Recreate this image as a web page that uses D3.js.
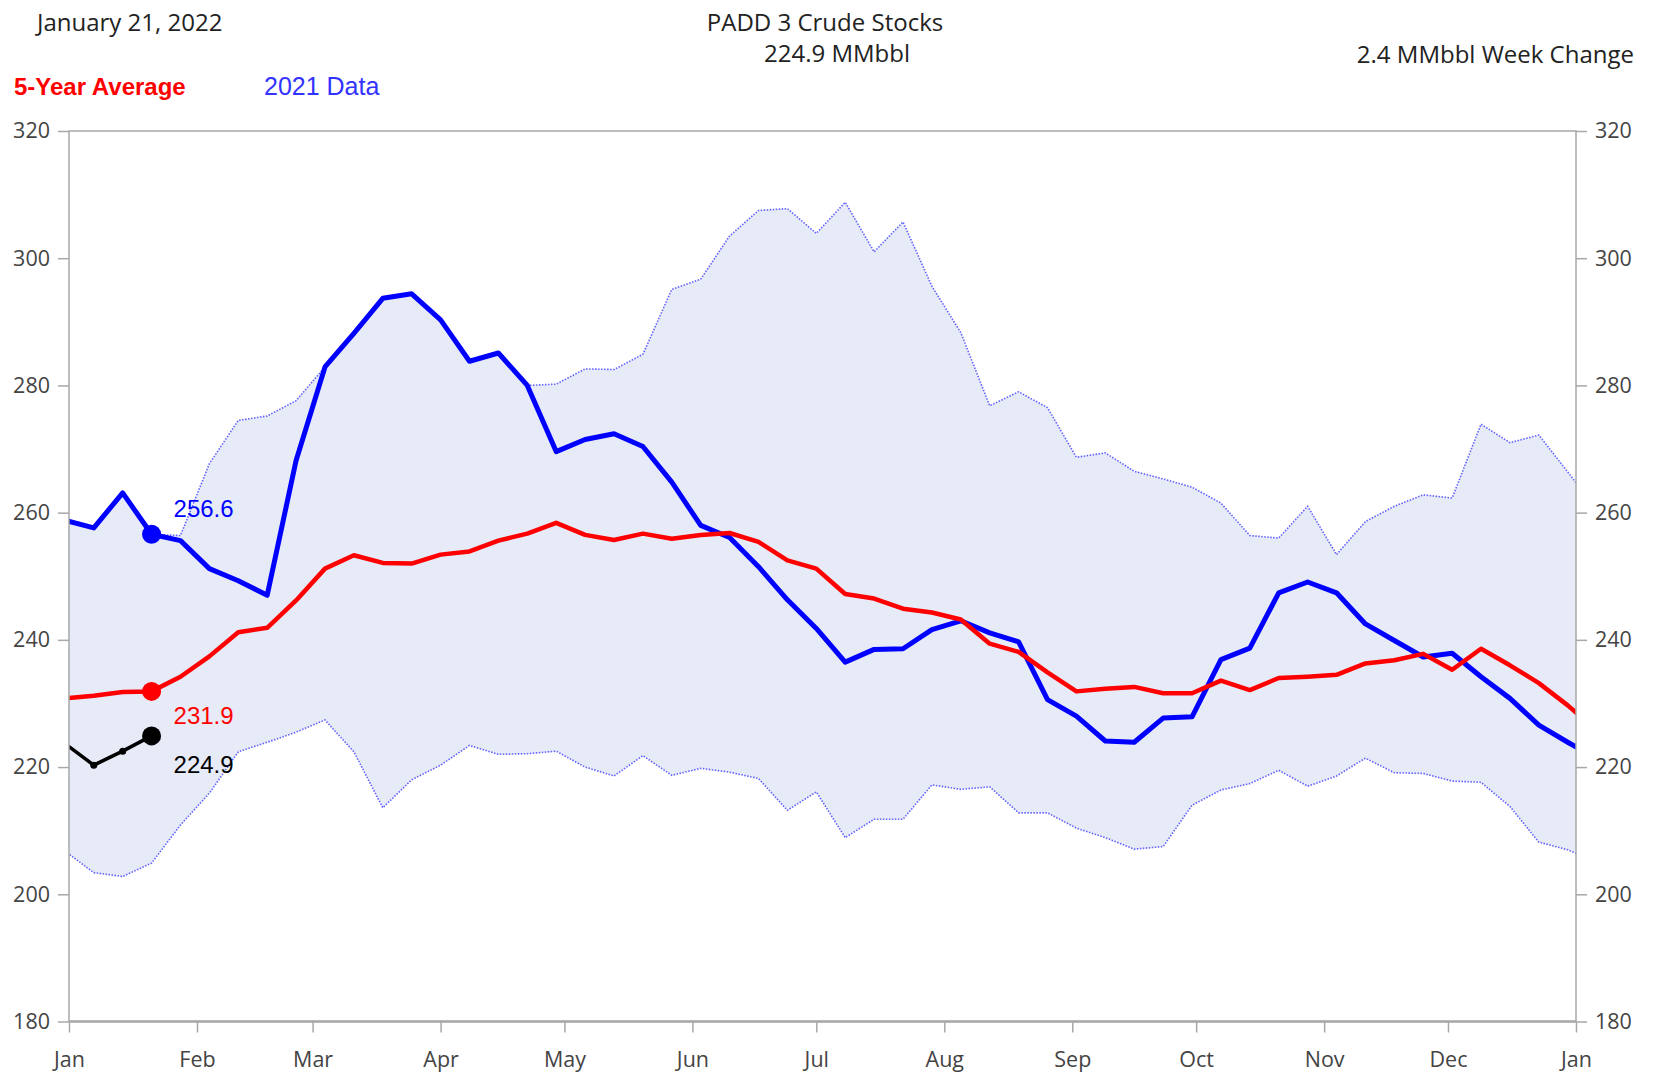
<!DOCTYPE html>
<html>
<head>
<meta charset="utf-8">
<script src="https://cdn.jsdelivr.net/npm/d3@7"></script>
<style>
  body { margin: 0; background: #fff; }
  .axis text { font-family: "Open Sans", sans-serif; font-size: 21.5px; fill: #444; }
  .axis line { stroke: #a8a8a8; stroke-width: 1.5; }
  .axis path { display: none; }
</style>
</head>
<body>
<div id="chart"></div>
<script>
// weekly report dates, shown on a 2021 calendar (Dec 31 2020 .. Jan 6 2022)
const weeks = d3.range(54).map(i => d3.utcDay.offset(new Date(Date.UTC(2020, 11, 31)), i * 7));

// 2021 weekly stocks, MMbbl
const data2021 = [258.8, 257.6, 263.1, 256.6, 255.6, 251.2, 249.3, 247.0, 268.2, 282.9,
  288.2, 293.7, 294.4, 290.3, 283.8, 285.1, 280.0, 269.6, 271.5, 272.4,
  270.4, 264.8, 258.0, 256.1, 251.5, 246.3, 241.8, 236.5, 238.5, 238.6,
  241.6, 243.0, 241.1, 239.7, 230.6, 228.0, 224.1, 223.9, 227.7, 227.9,
  236.9, 238.7, 247.4, 249.1, 247.4, 242.5, 239.9, 237.3, 237.9, 234.2,
  230.8, 226.6, 223.9, 221.3];

// 5-year average
const avg5 = [230.8, 231.2, 231.8, 231.9, 234.2, 237.4, 241.2, 241.9, 246.2, 251.2,
  253.3, 252.1, 252.0, 253.4, 253.9, 255.6, 256.7, 258.4, 256.5, 255.7,
  256.7, 255.9, 256.5, 256.8, 255.4, 252.5, 251.2, 247.2, 246.5, 244.9,
  244.3, 243.2, 239.4, 238.1, 234.9, 231.9, 232.3, 232.6, 231.6, 231.6,
  233.6, 232.1, 234.0, 234.2, 234.5, 236.3, 236.8, 237.8, 235.3, 238.6,
  236.0, 233.2, 229.7, 225.8];

// 5-year range
const max5 = [258.8, 257.6, 263.1, 256.6, 256.4, 267.7, 274.5, 275.2, 277.6, 282.9,
  288.2, 293.7, 294.4, 290.3, 283.8, 285.1, 280.0, 280.2, 282.6, 282.5,
  284.9, 295.1, 296.7, 303.5, 307.5, 307.8, 303.9, 308.8, 301.0, 305.7,
  295.6, 288.3, 276.8, 279.0, 276.5, 268.7, 269.4, 266.5, 265.3, 264.0,
  261.5, 256.4, 256.0, 261.0, 253.4, 258.6, 261.0, 262.8, 262.3, 273.9,
  271.0, 272.2, 266.4, 260.5];
const min5 = [206.8, 203.4, 202.8, 204.9, 210.9, 215.9, 222.4, 223.9, 225.5, 227.4,
  222.4, 213.6, 218.0, 220.3, 223.4, 222.0, 222.1, 222.5, 220.0, 218.6,
  221.8, 218.7, 219.8, 219.2, 218.2, 213.2, 216.1, 208.9, 211.8, 211.8,
  217.2, 216.5, 216.9, 212.8, 212.8, 210.4, 208.9, 207.1, 207.5, 214.0,
  216.4, 217.4, 219.5, 217.0, 218.6, 221.4, 219.1, 219.0, 217.8, 217.6,
  213.8, 208.2, 207.0, 205.0];

// 2022 so far
const data2022 = [223.7, 220.3, 222.5, 224.9];

const yTicks = [180, 200, 220, 240, 260, 280, 300, 320];

const width = 1654, height = 1075;
const plotL = 69, plotR = 1576, plotT = 131, plotB = 1021.5;

const svg = d3.select("#chart").append("svg")
    .attr("width", width)
    .attr("height", height);

const x = d3.scaleUtc()
    .domain([new Date(Date.UTC(2021, 0, 1)), new Date(Date.UTC(2022, 0, 1))])
    .range([plotL, plotR]);
const y = d3.scaleLinear().domain([180, 320]).range([plotB, plotT]);

svg.append("defs").append("clipPath").attr("id", "plot")
  .append("rect")
    .attr("x", plotL).attr("y", plotT)
    .attr("width", plotR - plotL).attr("height", plotB - plotT);

const rows = weeks.map((d, i) => ({
  date: d, cur: data2021[i], avg: avg5[i], hi: max5[i], lo: min5[i]
}));
const rows22 = data2022.map((v, i) => ({date: weeks[i], v: v}));

const plot = svg.append("g").attr("clip-path", "url(#plot)");

// range band
plot.append("path")
    .datum(rows)
    .attr("fill", "#e7eaf7")
    .attr("d", d3.area().x(d => x(d.date)).y0(d => y(d.lo)).y1(d => y(d.hi)));

[d => d.hi, d => d.lo].forEach(acc => {
  plot.append("path")
      .datum(rows)
      .attr("fill", "none")
      .attr("stroke", "#4848ff")
      .attr("stroke-opacity", 0.85)
      .attr("stroke-width", 1.6)
      .attr("stroke-dasharray", "1.5,1.5")
      .attr("d", d3.line().x(d => x(d.date)).y(d => y(acc(d))));
});

plot.append("path")
    .datum(rows)
    .attr("fill", "none")
    .attr("stroke", "#0000ff")
    .attr("stroke-width", 5)
    .attr("stroke-linejoin", "round")
    .attr("d", d3.line().x(d => x(d.date)).y(d => y(d.cur)));

plot.append("path")
    .datum(rows)
    .attr("fill", "none")
    .attr("stroke", "#ff0000")
    .attr("stroke-width", 4.5)
    .attr("stroke-linejoin", "round")
    .attr("d", d3.line().x(d => x(d.date)).y(d => y(d.avg)));

plot.append("path")
    .datum(rows22)
    .attr("fill", "none")
    .attr("stroke", "#000")
    .attr("stroke-width", 3.5)
    .attr("d", d3.line().x(d => x(d.date)).y(d => y(d.v)));

plot.selectAll(".m22")
  .data(rows22.slice(1, 3))
  .join("circle")
    .attr("cx", d => x(d.date))
    .attr("cy", d => y(d.v))
    .attr("r", 3.5)
    .attr("fill", "#000");

// latest week markers and labels
const last = 3;
const marks = [
  {v: data2021[last], color: "#0000ff", dy: -17},
  {v: avg5[last], color: "#ff0000", dy: 33},
  {v: data2022[last], color: "#000", dy: 37}
];
marks.forEach(m => {
  svg.append("circle")
      .attr("cx", x(weeks[last]))
      .attr("cy", y(m.v))
      .attr("r", 9.5)
      .attr("fill", m.color);
  svg.append("text")
      .attr("x", x(weeks[last]) + 22)
      .attr("y", y(m.v) + m.dy)
      .attr("fill", m.color)
      .style("font-family", "'Liberation Sans', Arial, sans-serif")
      .style("font-size", "24px")
      .text(m.v.toFixed(1));
});

// frame
svg.append("rect")
    .attr("x", plotL).attr("y", plotT)
    .attr("width", plotR - plotL).attr("height", plotB - plotT)
    .attr("fill", "none")
    .attr("stroke", "#a8a8a8")
    .attr("stroke-width", 1.5);
svg.append("line")
    .attr("x1", plotL).attr("x2", plotR)
    .attr("y1", plotB).attr("y2", plotB)
    .attr("stroke", "#a8a8a8")
    .attr("stroke-width", 2.5);

// axes
const xAxis = svg.append("g")
    .attr("class", "axis")
    .attr("transform", `translate(0,${plotB})`)
    .call(d3.axisBottom(x).ticks(d3.utcMonth.every(1)).tickFormat(d3.utcFormat("%b")).tickSize(11));
xAxis.selectAll("text").attr("y", 45).attr("dy", 0);

svg.append("g")
    .attr("class", "axis")
    .attr("transform", `translate(${plotL},0)`)
    .call(d3.axisLeft(y).tickValues(yTicks).tickSize(11).tickPadding(8));

svg.append("g")
    .attr("class", "axis")
    .attr("transform", `translate(${plotR},0)`)
    .call(d3.axisRight(y).tickValues(yTicks).tickSize(11).tickPadding(8));

// headings
const head = (t, xp, yp, anchor) => svg.append("text")
    .attr("x", xp).attr("y", yp)
    .attr("text-anchor", anchor)
    .attr("fill", "#222")
    .style("font-family", "'Open Sans', sans-serif")
    .style("font-size", "24px")
    .text(t);
head("January 21, 2022", 37, 31, "start");
head("PADD 3 Crude Stocks", 825, 31, "middle");
head("224.9 MMbbl", 837, 62, "middle");
head("2.4 MMbbl Week Change", 1634, 63, "end");

svg.append("text")
    .attr("x", 14).attr("y", 95)
    .attr("fill", "#ff0000")
    .style("font-family", "'Liberation Sans', Arial, sans-serif")
    .style("font-size", "24px")
    .style("font-weight", "bold")
    .text("5-Year Average");
svg.append("text")
    .attr("x", 264).attr("y", 95)
    .attr("fill", "#3333ff")
    .style("font-family", "'Liberation Sans', Arial, sans-serif")
    .style("font-size", "25px")
    .text("2021 Data");
</script>
</body>
</html>
